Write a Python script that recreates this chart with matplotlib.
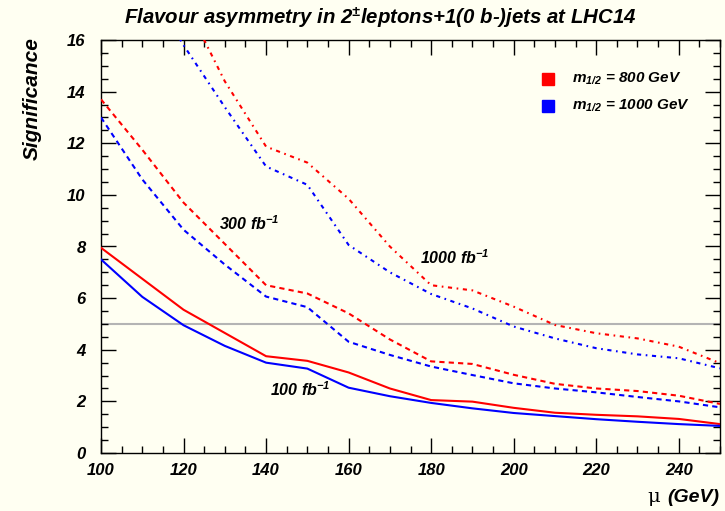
import matplotlib
matplotlib.use("Agg")
import matplotlib.pyplot as plt
from matplotlib.ticker import MultipleLocator

mu = [100, 110, 120, 130, 140, 150, 160, 170, 180, 190, 200, 210, 220, 230, 240, 250]

# m1/2 = 800 GeV (red)
red_100 = [7.95, 6.75, 5.55, 4.65, 3.75, 3.57, 3.12, 2.50, 2.05, 1.99, 1.75, 1.56, 1.48, 1.42, 1.32, 1.12]
red_300 = [13.7, 11.75, 9.7, 8.1, 6.5, 6.18, 5.41, 4.40, 3.55, 3.45, 3.03, 2.68, 2.50, 2.40, 2.22, 1.90]
red_1000 = [23.5, 20.5, 17.6, 14.4, 11.87, 11.25, 9.85, 8.00, 6.50, 6.30, 5.67, 4.96, 4.64, 4.44, 4.12, 3.48]

# m1/2 = 1000 GeV (blue)
blue_100 = [7.50, 6.05, 4.95, 4.15, 3.50, 3.27, 2.53, 2.20, 1.94, 1.73, 1.55, 1.43, 1.31, 1.21, 1.12, 1.05]
blue_300 = [13.0, 10.6, 8.65, 7.30, 6.06, 5.65, 4.31, 3.80, 3.35, 3.02, 2.70, 2.50, 2.35, 2.17, 2.00, 1.77]
blue_1000 = [21.5, 18.5, 15.8, 13.4, 11.1, 10.39, 8.06, 7.00, 6.16, 5.60, 4.90, 4.44, 4.06, 3.82, 3.67, 3.28]

lumi_labels = ["100 fb$^{-1}$", "300 fb$^{-1}$", "1000 fb$^{-1}$"]
lumi_pos = [(141, 2.45), (128.5, 8.9), (177.3, 7.55)]
legend_labels = ["m$_{1/2}$ = 800 GeV", "m$_{1/2}$ = 1000 GeV"]
threshold = 5

bg = "#fffff2"
plt.rcParams['font.family'] = ['Liberation Sans', 'DejaVu Sans']
plt.rcParams['mathtext.fontset'] = 'custom'
plt.rcParams['mathtext.rm'] = 'Liberation Sans:bold:italic'
plt.rcParams['mathtext.it'] = 'Liberation Sans:bold:italic'
plt.rcParams['mathtext.bf'] = 'Liberation Sans:bold:italic'

fig = plt.figure(figsize=(7.25, 5.11), dpi=100, facecolor=bg)
ax = fig.add_axes([101/725, 1-453/511, 619/725, 413/511])
ax.set_facecolor(bg)

ax.axhline(threshold, color="#b4b4b4", lw=1.5, zorder=1)

red = "#ff0000"
blue = "#0000ff"
dashed = (0, (2.5, 2.0))
dashdot = (0, (2.0, 2.2, 0.8, 2.2))
ax.plot(mu, red_100, color=red, lw=1.5, zorder=3)
ax.plot(mu, blue_100, color=blue, lw=1.5, zorder=3)
ax.plot(mu, red_300, color=red, lw=1.5, linestyle=dashed, zorder=3)
ax.plot(mu, blue_300, color=blue, lw=1.5, linestyle=dashed, zorder=3)
ax.plot(mu, red_1000, color=red, lw=1.5, linestyle=dashdot, zorder=3)
ax.plot(mu, blue_1000, color=blue, lw=1.5, linestyle=dashdot, zorder=3)

for lab, (x, y) in zip(lumi_labels, lumi_pos):
    ax.text(x, y, lab, fontsize=11.5, fontweight='bold', style='italic', ha='left', va='center')

ax.set_xlim(100, 250)
ax.set_ylim(0, 16)
ax.xaxis.set_major_locator(MultipleLocator(20))
ax.xaxis.set_minor_locator(MultipleLocator(5))
ax.yaxis.set_major_locator(MultipleLocator(2))
ax.yaxis.set_minor_locator(MultipleLocator(0.5))
ax.tick_params(which='both', direction='in', top=True, right=True, width=1)
ax.tick_params(which='major', length=10.5, labelsize=12, pad=7)
ax.tick_params(which='minor', length=5)
ax.tick_params(axis='y', which='major', pad=11)
for lbl in ax.get_xticklabels() + ax.get_yticklabels():
    lbl.set_fontweight('bold')
    lbl.set_fontstyle('italic')
for s in ax.spines.values():
    s.set_linewidth(1.0)

# legend
ax.plot([0.722], [0.905], marker='s', color=red, ms=8, transform=ax.transAxes, clip_on=False)
ax.plot([0.722], [0.84], marker='s', color=blue, ms=8, transform=ax.transAxes, clip_on=False)
ax.text(0.761, 0.905, legend_labels[0], transform=ax.transAxes, fontsize=11,
        fontweight='bold', style='italic', va='center')
ax.text(0.761, 0.84, legend_labels[1], transform=ax.transAxes, fontsize=11,
        fontweight='bold', style='italic', va='center')

fig.text(0.525, 0.965, "Flavour asymmetry in 2$^{\\pm}$leptons+1(0 b-)jets at LHC14",
         ha='center', va='center', fontsize=14.7, fontweight='bold', style='italic')
fig.text(0.045, 1-99/511, "Significance", rotation=90, ha='center', va='center',
         fontsize=15, fontweight='bold', style='italic')
fig.text(0.893, 1-497/511, "\u03bc", ha='left', va='center', fontsize=14,
         family=['DejaVu Serif'])
fig.text(0.921, 1-497/511, "(GeV)", ha='left', va='center', fontsize=14,
         fontweight='bold', style='italic')

fig.savefig("out.png", dpi=100, facecolor=bg)
